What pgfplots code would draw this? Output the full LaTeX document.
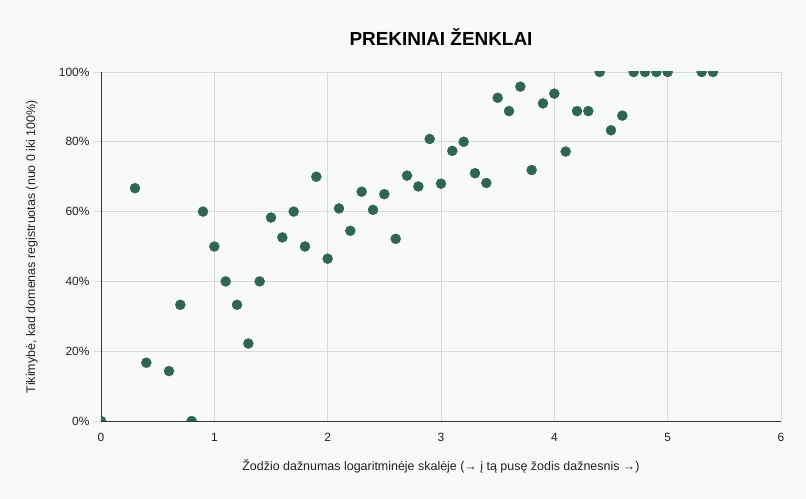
\documentclass[border=0pt]{standalone}
\usepackage{pgfplots}
\pgfplotsset{compat=1.18}
\usepackage{fontspec}
\setmainfont{Liberation Sans}
\definecolor{bg}{HTML}{F8F9FA}
\definecolor{dot}{HTML}{2F6650}
\definecolor{gridc}{HTML}{D9D9D9}
\definecolor{axc}{HTML}{333333}
\definecolor{lab}{HTML}{222222}
\begin{document}
\begin{tikzpicture}[x=1bp,y=1bp]
\fill[bg] (-101,-78) rectangle (705,421);
\path[use as bounding box] (-101,-78) rectangle (705,421);
\begin{axis}[
  at={(0,0)}, anchor=origin, 
  scale only axis, width=680bp, height=349bp,
  xmin=0, xmax=6, ymin=0, ymax=100,
  xtick={0,1,2,3,4,5,6}, ytick={0,20,40,60,80,100},
  grid=major, major grid style={draw=gridc, line width=0.75pt},
  axis x line*=bottom, axis y line*=left,
  axis line style={draw=axc, line width=0.8pt, -},
  x tick style={draw=none},
  y tick style={draw=gridc, line width=0.75pt},
  tick align=outside, major tick length=7bp,
  /pgf/number format/assume math mode=true,
  tick label style={font=\fontsize{12}{14}\selectfont, text=lab},
  yticklabel={\pgfmathprintnumber{\tick}\%},
  xticklabel style={yshift=-2bp},
  yticklabel style={xshift=-1bp},
  axis background/.style={fill=bg},
  clip=true, clip marker paths=true,
]
\addplot[only marks, mark=*, mark size=5bp, mark options={draw=dot, fill=dot}] coordinates {
(0,0) (0.3,66.7) (0.4,16.7) (0.6,14.3) (0.7,33.3) (0.8,0) (0.9,60)
(1.0,50) (1.1,40) (1.2,33.3) (1.3,22.2) (1.4,40) (1.5,58.3) (1.6,52.6)
(1.7,60) (1.8,50) (1.9,70) (2.0,46.5) (2.1,60.9) (2.2,54.5) (2.3,65.7)
(2.4,60.5) (2.5,65) (2.6,52.2) (2.7,70.3) (2.8,67.2) (2.9,80.8) (3.0,68.0)
(3.1,77.4) (3.2,80) (3.3,71) (3.4,68.2) (3.5,92.6) (3.6,88.8) (3.7,95.8)
(3.8,71.9) (3.9,91) (4.0,93.8) (4.1,77.2) (4.2,88.8) (4.3,88.8) (4.4,100)
(4.5,83.3) (4.6,87.5) (4.7,100) (4.8,100) (4.9,100) (5.0,100) (5.3,100) (5.4,100)
};
\end{axis}
\node[font=\bfseries\fontsize{19}{22}\selectfont, text=black] at (340,384) {PREKINIAI ŽENKLAI};
\node[font=\fontsize{12.5}{15}\selectfont, text=lab] at (340,-45) {Žodžio dažnumas logaritminėje skalėje (→ į tą pusę žodis dažnesnis →)};
\node[font=\fontsize{12.5}{15}\selectfont, text=lab, rotate=90] at (-69,174.5) {Tikimybė, kad domenas registruotas (nuo 0 iki 100\%)};
\end{tikzpicture}
\end{document}
